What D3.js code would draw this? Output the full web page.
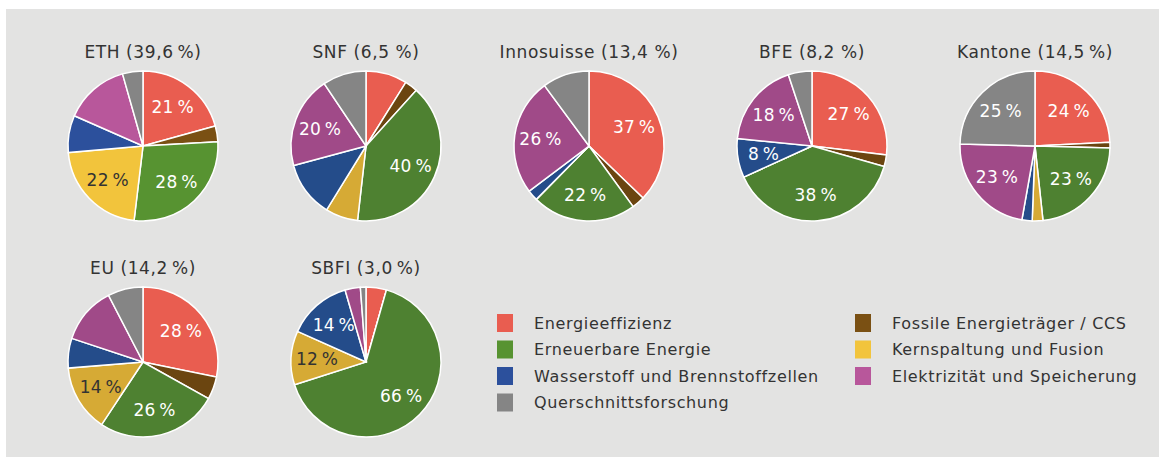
<!DOCTYPE html>
<html>
<head>
<meta charset="utf-8">
<script src="https://cdn.jsdelivr.net/npm/d3@7"></script>
<style>
  body { margin: 0; background: #fff; }
  text { font-family: "DejaVu Sans", Verdana, sans-serif; }
</style>
</head>
<body>
<script>
// categories, in pie order (clockwise from 12 o'clock)
const categories = ["Energieeffizienz", "Fossile Energieträger / CCS", "Erneuerbare Energie",
  "Kernspaltung und Fusion", "Wasserstoff und Brennstoffzellen", "Elektrizität und Speicherung",
  "Querschnittsforschung"];

// bright colours (legend + ETH) and muted ones used in the other pies
const brightColors = ["#e95d50", "#7a5013", "#579331", "#f2c43c", "#2c509c", "#b8579b", "#858585"];
const mutedColors = ["#e95d50", "#6b4510", "#4e8131", "#d6aa35", "#244c8a", "#a04a88", "#858585"];

const pieTitles = ["ETH (39,6\u2009%)", "SNF (6,5 %)", "Innosuisse (13,4 %)", "BFE (8,2 %)",
  "Kantone (14,5\u2009%)", "EU (14,2\u2009%)", "SBFI (3,0\u2009%)"];

const eth = [20.7, 3.4, 27.8, 21.7, 8.0, 14.0, 4.4];
const snf = [8.9, 2.8, 40.1, 7.0, 12.0, 19.8, 9.4];
const innosuisse = [37.2, 2.8, 22.4, 0, 2.3, 25.2, 10.1];
const bfe = [26.9, 2.5, 38.8, 0, 8.4, 18.3, 5.1];
const kantone = [24.2, 1.2, 22.9, 2.3, 2.2, 22.6, 24.6];
const eu = [28.2, 4.9, 26.2, 14.4, 6.4, 12.3, 7.6];
const sbfi = [4.4, 0, 65.7, 11.6, 13.8, 3.3, 1.2];

const ethLabels = ["21\u2009%", "", "28\u2009%", "22\u2009%", "", "", ""];
const snfLabels = ["", "", "40\u2009%", "", "", "20\u2009%", ""];
const innoLabels = ["37\u2009%", "", "22\u2009%", "", "", "26\u2009%", ""];
const bfeLabels = ["27\u2009%", "", "38\u2009%", "", "8\u2009%", "18\u2009%", ""];
const kantoneLabels = ["24\u2009%", "", "23\u2009%", "", "", "23\u2009%", "25\u2009%"];
const euLabels = ["28\u2009%", "", "26\u2009%", "14\u2009%", "", "", ""];
const sbfiLabels = ["", "", "66\u2009%", "12\u2009%", "14\u2009%", "", ""];

const pies = [
  { title: pieTitles[0], values: eth, labels: ethLabels, colors: brightColors },
  { title: pieTitles[1], values: snf, labels: snfLabels, colors: mutedColors },
  { title: pieTitles[2], values: innosuisse, labels: innoLabels, colors: mutedColors },
  { title: pieTitles[3], values: bfe, labels: bfeLabels, colors: mutedColors },
  { title: pieTitles[4], values: kantone, labels: kantoneLabels, colors: mutedColors },
  { title: pieTitles[5], values: eu, labels: euLabels, colors: mutedColors },
  { title: pieTitles[6], values: sbfi, labels: sbfiLabels, colors: mutedColors }
];

const legendCol1 = [0, 2, 4, 6];
const legendCol2 = [1, 3, 5];

let svg = d3.select("body").append("svg")
  .attr("width", 1159)
  .attr("height", 457);

svg.append("rect")
  .attr("x", 6).attr("y", 9)
  .attr("width", 1153).attr("height", 448)
  .style("fill", "#e3e3e2");

const radius = 75;
const pie = d3.pie().sort(null).value(d => d);
const arc = d3.arc().innerRadius(0).outerRadius(radius);
const labelArc = d3.arc().innerRadius(49).outerRadius(49);

function drawPie(p, i) {
  const col = i < 5 ? i : i - 5;
  const row = i < 5 ? 0 : 1;
  const cx = 143 + col * 223;
  const cy = 146 + row * 216;

  const g = svg.append("g").attr("transform", `translate(${cx},${cy})`);

  g.append("text")
    .attr("x", 0).attr("y", -88)
    .attr("text-anchor", "middle")
    .style("font-size", "17px")
    .style("letter-spacing", "0.6px")
    .style("fill", "#333")
    .text(p.title);

  const arcs = pie(p.values);

  g.selectAll("path").data(arcs).enter().append("path")
    .attr("d", arc)
    .style("fill", (d, k) => p.colors[k])
    .style("stroke", "#fff")
    .style("stroke-width", 1.5);

  g.selectAll("text.lbl").data(arcs).enter().append("text")
    .attr("class", "lbl")
    .attr("transform", d => `translate(${labelArc.centroid(d)})`)
    .attr("text-anchor", "middle")
    .attr("dy", "0.36em")
    .style("font-size", "17px")
    .style("letter-spacing", "0.3px")
    .style("fill", (d, k) => k == 3 ? "#333" : "#fff")
    .text((d, k) => p.labels[k]);
}

pies.forEach(drawPie);

function addLegend(idx, x, y) {
  svg.append("rect")
    .attr("x", x).attr("y", y - 9)
    .attr("width", 16).attr("height", 18)
    .style("fill", brightColors[idx]);
  svg.append("text")
    .attr("x", x + 37).attr("y", y)
    .attr("dy", "0.36em")
    .style("font-size", "16px")
    .style("letter-spacing", "0.65px")
    .style("fill", "#333")
    .text(categories[idx]);
}

legendCol1.forEach((c, k) => addLegend(c, 497, 323 + k * 26.5));
legendCol2.forEach((c, k) => addLegend(c, 855, 323 + k * 26.5));
</script>
</body>
</html>
